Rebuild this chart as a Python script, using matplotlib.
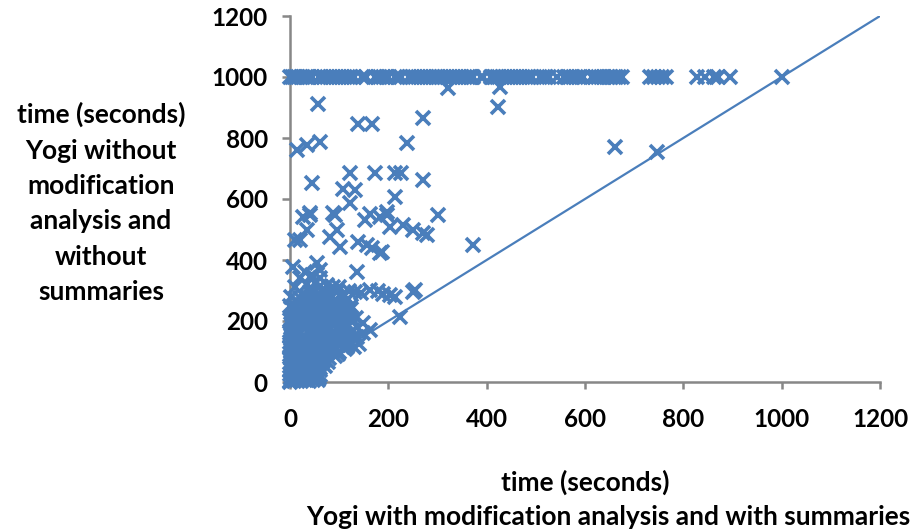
import matplotlib

matplotlib.use("Agg")
import matplotlib.pyplot as plt

# y = 1000 row: runs that hit the timeout without summaries
timeout_x = [0, 4, 8, 12, 17, 22, 27, 32, 38, 44, 58, 64, 70, 76, 82, 88, 94, 100,
             106, 112, 118, 124, 130, 146, 155, 172, 178, 184, 190, 196, 200, 214,
             220, 226, 242, 248, 254, 260, 266, 272, 278, 284, 290, 296, 302, 308,
             314, 320, 326, 332, 338, 344, 350, 356, 362, 368, 372, 388, 392, 408,
             414, 420, 426, 432, 438, 444, 450, 456, 462, 468, 474, 480, 486, 492,
             508, 514, 520, 526, 544, 558, 564, 570, 576, 582, 588, 596, 614, 620,
             626, 632, 638, 646, 652, 658, 664, 670, 676, 733, 741, 749, 757, 765,
             828, 845, 862, 870, 895, 1000]

# scattered points above the dense cluster
mid_x = [57, 14, 35, 61, 138, 166, 270, 238, 45, 122, 173, 214, 226, 270, 108, 132,
         214, 122, 301, 41, 92, 163, 197, 27, 41, 88, 153, 183, 197, 203, 230, 250,
         279, 35, 20, 10, 96, 81, 102, 138, 157, 187, 167, 6, 55, 61, 136, 163, 203,
         214, 250, 224, 254, 372, 270, 183, 116, 128, 108, 136, 116, 148, 163, 122,
         148, 0, 6, 0, 0, 321, 427, 423, 661, 746]
mid_y = [912, 761, 777, 787, 845, 845, 866, 785, 652, 686, 686, 686, 686, 662, 633, 630,
         607, 587, 548, 548, 548, 552, 548, 541, 554, 554, 531, 541, 557, 508, 515, 498,
         482, 498, 466, 466, 498, 475, 443, 459, 449, 426, 439, 377, 390, 367, 361, 302, 285,
         279, 295, 213, 302, 449, 489, 423, 226, 203, 170, 148, 115, 193, 170, 161,
         161, 203, 138, 115, 131, 964, 967, 902, 771, 754]

# dense cluster of short runs near the origin
blob_x = [35, 50, 62, 75, 88,
          25, 40, 55, 68, 82, 95, 108, 120, 132, 145, 178, 190,
          15, 30, 45, 58, 72, 85, 98, 112, 125,
          8, 22, 36, 50, 63, 76, 90, 104, 118,
          5, 18, 30, 44, 57, 70, 83, 96, 110, 124,
          3, 14, 26, 38, 50, 62, 75, 88, 100, 112, 128,
          2, 12, 24, 35, 47, 58, 70, 82, 94, 106, 120, 140,
          0, 10, 20, 31, 42, 53, 64, 76, 88, 100, 112, 130,
          0, 8, 17, 27, 37, 47, 58, 68, 80, 92,
          0, 6, 14, 22, 31, 40, 50, 60, 72,
          0, 5, 11, 18, 26, 34, 43, 52, 62,
          0, 4, 9, 15, 22, 30, 38, 47, 56,
          0, 2, 7, 3, 10, 0, 5, 0, 2, 10, 20, 45, 60, 30,
          45, 70, 100,
          20, 35, 50, 65, 78, 92, 105, 118,
          10, 28, 42, 56, 70, 84, 97, 110, 125,
          6, 15, 28, 40, 52, 66, 80, 92, 106, 120, 135,
          2, 10, 22, 34, 46, 58, 66, 78, 92, 104, 118,
          6, 18, 30, 42, 54, 66, 80, 92, 104, 116, 130,
          5, 16, 28, 40, 52, 64, 76, 88, 100, 118,
          4, 14, 24, 34, 44, 54, 64, 74, 86, 98,
          3, 12, 20, 30, 38, 48, 56, 66, 78,
          2, 10, 18, 26, 35, 44, 52, 62,
          3, 10, 18, 25, 33, 42, 50, 58]
blob_y = [320, 325, 315, 318, 310,
          290, 295, 285, 292, 288, 295, 290, 300, 296, 292, 298, 290,
          265, 258, 262, 255, 268, 260, 255, 262, 250,
          235, 228, 240, 232, 226, 238, 230, 222, 235,
          205, 198, 210, 195, 202, 190, 205, 198, 188, 200,
          172, 165, 178, 168, 175, 160, 170, 165, 175, 160, 168,
          142, 135, 148, 138, 145, 130, 140, 135, 145, 130, 138, 125,
          112, 105, 118, 108, 115, 100, 110, 105, 115, 98, 108, 115,
          82, 75, 88, 78, 85, 72, 80, 70, 78, 85,
          52, 45, 58, 48, 55, 42, 50, 45, 52,
          25, 18, 30, 22, 28, 20, 26, 18, 22,
          3, 8, 2, 6, 4, 8, 3, 6, 5,
          0, 12, 38, 62, 95, 160, 185, 250, 280, 310, 340, 350, 340, 360,
          305, 300, 310,
          275, 278, 272, 280, 275, 270, 276, 272,
          248, 245, 250, 242, 248, 244, 240, 246, 238,
          218, 212, 220, 214, 216, 210, 218, 212, 208, 215, 210,
          190, 182, 188, 184, 186, 180, 188, 182, 186, 180, 184,
          152, 158, 150, 156, 150, 154, 150, 156, 152, 148, 150,
          125, 122, 128, 124, 122, 126, 120, 126, 120, 122,
          95, 92, 98, 94, 96, 90, 94, 92, 98, 92,
          65, 68, 62, 66, 62, 66, 62, 68, 64,
          38, 40, 36, 40, 36, 38, 34, 38,
          14, 12, 14, 10, 14, 12, 14, 12]

ticks = [0, 200, 400, 600, 800, 1000, 1200]

BLUE = "#4a7ebb"
GREY = "#878787"

plt.rcParams["font.family"] = ["Lato", "DejaVu Sans"]
plt.rcParams["font.weight"] = "bold"

fig = plt.figure(figsize=(9.19, 5.31), dpi=100)
ax = fig.add_axes([290 / 919, 1 - 382 / 531, 590 / 919, 366 / 531])

xs = timeout_x + mid_x + blob_x
ys = [1000] * len(timeout_x) + mid_y + blob_y
ax.plot(xs, ys, linestyle="none", marker="x", markersize=9.5, markeredgewidth=2.6,
        color=BLUE, clip_on=False, zorder=3)
ax.plot([0, 1200], [0, 1200], color=BLUE, linewidth=1.6, zorder=2)

ax.set_xlim(0, 1200)
ax.set_ylim(0, 1200)
ax.set_xticks(ticks)
ax.set_yticks(ticks)
for side in ("top", "right"):
    ax.spines[side].set_visible(False)
for side in ("left", "bottom"):
    ax.spines[side].set_color(GREY)
    ax.spines[side].set_linewidth(1.8)
ax.tick_params(axis="y", length=6, width=1.8, color=GREY, pad=10, labelsize=17.5)
ax.tick_params(axis="x", length=5, width=1.8, color=GREY, pad=14, labelsize=17.5)
for lab in ax.get_xticklabels() + ax.get_yticklabels():
    lab.set_fontweight("bold")

ylab = "time (seconds)\nYogi without\nmodification\nanalysis and\nwithout\nsummaries"
fig.text(101 / 919, 1 - 203 / 531, ylab, ha="center", va="center", fontsize=19,
         fontweight="bold", linespacing=1.57)
fig.text(585 / 919, 1 - 482 / 531, "time (seconds)", ha="center", va="center",
         fontsize=19, fontweight="bold")
fig.text(608 / 919, 1 - 517 / 531, "Yogi with modification analysis and with summaries",
         ha="center", va="center", fontsize=19, fontweight="bold")

fig.savefig("out.png", dpi=100)
